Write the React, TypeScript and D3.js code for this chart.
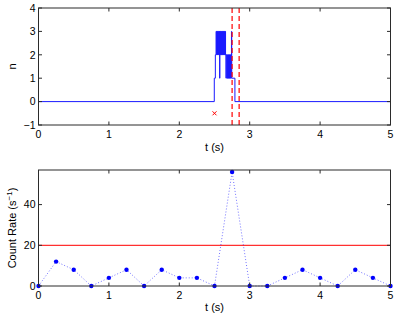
import React from "react";
import * as d3 from "d3";

// top panel: photon count n(t) as a step trace
const stepT = [
  0, 2.497, 2.512, 2.522, 2.53, 2.534, 2.541, 2.545, 2.552, 2.556, 2.566, 2.569,
  2.573, 2.576, 2.583, 2.587, 2.594, 2.598, 2.604, 2.608, 2.615, 2.619, 2.626,
  2.63, 2.637, 2.641, 2.648, 2.652, 2.657, 2.664, 2.666, 2.677, 2.681, 2.686,
  2.69, 2.695, 2.699, 2.704, 2.708, 2.713, 2.717, 2.722, 2.726, 2.733, 2.737,
  2.741, 2.745, 2.79, 5,
];
const stepN = [
  0, 1, 2, 3, 2, 3, 2, 3, 2, 3, 2, 3, 1, 3, 2, 3, 2, 3, 2, 3, 2, 3, 2, 3, 2, 3,
  2, 3, 2, 1, 2, 1, 2, 1, 2, 1, 2, 1, 2, 1, 2, 1, 2, 1, 2, 3, 1, 0, 0,
];
const markerT = [2.5];
const markerN = [-0.5];
const windowT = [2.75, 2.85];

// bottom panel: binned count rate
const rateT = [
  0, 0.25, 0.5, 0.75, 1, 1.25, 1.5, 1.75, 2, 2.25, 2.5, 2.75, 3, 3.25, 3.5,
  3.75, 4, 4.25, 4.5, 4.75, 5,
];
const rateV = [0, 12, 8, 0, 4, 8, 0, 8, 4, 4, 0, 56, 0, 0, 4, 8, 4, 0, 8, 4, 0];
const threshold = 20;

const xTicks = [0, 1, 2, 3, 4, 5];
const yTicksTop = [-1, 0, 1, 2, 3, 4];
const yTicksBot = [0, 20, 40];

const font = "'Liberation Sans', Arial, Helvetica, sans-serif";
const axisColor = "#2b2b2b";
const tickLen = 3.5;

function Frame({ x, y, xt, yt, yFmt }) {
  const [x0, x1] = x.range();
  const [y0, y1] = y.range(); // y0 bottom, y1 top
  return (
    <g fontFamily={font} fontSize={10.5} fill="#000">
      <rect
        x={x0}
        y={y1}
        width={x1 - x0}
        height={y0 - y1}
        fill="none"
        stroke={axisColor}
        strokeWidth={1}
      />
      {xt.map((t) => (
        <g key={"x" + t}>
          <line x1={x(t)} x2={x(t)} y1={y0} y2={y0 - tickLen} stroke={axisColor} />
          <line x1={x(t)} x2={x(t)} y1={y1} y2={y1 + tickLen} stroke={axisColor} />
          <text x={x(t)} y={y0 + 13} textAnchor="middle">
            {t}
          </text>
        </g>
      ))}
      {yt.map((v) => (
        <g key={"y" + v}>
          <line x1={x0} x2={x0 + tickLen} y1={y(v)} y2={y(v)} stroke={axisColor} />
          <line x1={x1} x2={x1 - tickLen} y1={y(v)} y2={y(v)} stroke={axisColor} />
          <text x={x0 - 3} y={y(v)} dy="0.36em" textAnchor="end">
            {yFmt(v)}
          </text>
        </g>
      ))}
    </g>
  );
}

export default function App() {
  const width = 399;
  const height = 317;

  const xTop = d3.scaleLinear().domain([0, 5]).range([38.5, 390.5]);
  const yTop = d3.scaleLinear().domain([-1, 4]).range([125, 8]);
  const xBot = d3.scaleLinear().domain([0, 5]).range([38.5, 390.5]);
  const yBot = d3.scaleLinear().domain([0, 57]).range([286, 170]);

  const stepPath = d3
    .line()
    .x((d) => xTop(d[0]))
    .y((d) => yTop(d[1]))
    .curve(d3.curveStepAfter)(stepT.map((t, i) => [t, stepN[i]]));

  const ratePath = d3
    .line()
    .x((d) => xBot(d[0]))
    .y((d) => yBot(d[1]))(rateT.map((t, i) => [t, rateV[i]]));

  const fmtMinus = (v) => (v < 0 ? "\u2212" + Math.abs(v) : String(v));
  const midTop = (xTop.range()[0] + xTop.range()[1]) / 2;

  return (
    <svg
      width={width}
      height={height}
      style={{ position: "absolute", left: 0, top: 0, background: "#fff" }}
    >
      <rect width={width} height={height} fill="#fff" />

      {/* top panel */}
      <path d={stepPath} fill="none" stroke="#1a1aff" strokeWidth={1} />
      {windowT.map((t) => (
        <line
          key={t}
          x1={xTop(t)}
          x2={xTop(t)}
          y1={yTop.range()[1]}
          y2={yTop.range()[0]}
          stroke="#ff0000"
          strokeWidth={1.2}
          strokeDasharray="5,3"
        />
      ))}
      {markerT.map((t, i) => (
        <g key={t} stroke="#ff0000" strokeWidth={1}>
          <line x1={xTop(t) - 2} x2={xTop(t) + 2} y1={yTop(markerN[i]) - 2} y2={yTop(markerN[i]) + 2} />
          <line x1={xTop(t) - 2} x2={xTop(t) + 2} y1={yTop(markerN[i]) + 2} y2={yTop(markerN[i]) - 2} />
        </g>
      ))}
      <Frame x={xTop} y={yTop} xt={xTicks} yt={yTicksTop} yFmt={fmtMinus} />
      <text x={midTop} y={151} textAnchor="middle" fontFamily={font} fontSize={11}>
        t (s)
      </text>
      <text
        transform={`translate(16,${(yTop.range()[0] + yTop.range()[1]) / 2}) rotate(-90)`}
        textAnchor="middle"
        fontFamily={font}
        fontSize={11}
      >
        n
      </text>

      {/* bottom panel */}
      <line
        x1={xBot.range()[0]}
        x2={xBot.range()[1]}
        y1={yBot(threshold)}
        y2={yBot(threshold)}
        stroke="#ff3030"
        strokeWidth={1.3}
      />
      <path
        d={ratePath}
        fill="none"
        stroke="#0000ff"
        strokeOpacity={0.55}
        strokeWidth={1}
        strokeDasharray="1,2"
      />
      {rateT.map((t, i) => (
        <circle key={t} cx={xBot(t)} cy={yBot(rateV[i])} r={2.2} fill="#0000ff" />
      ))}
      <Frame x={xBot} y={yBot} xt={xTicks} yt={yTicksBot} yFmt={(v) => String(v)} />
      <text x={midTop} y={311} textAnchor="middle" fontFamily={font} fontSize={11}>
        t (s)
      </text>
      <text
        transform={`translate(16,${(yBot.range()[0] + yBot.range()[1]) / 2}) rotate(-90)`}
        textAnchor="middle"
        fontFamily={font}
        fontSize={11}
      >
        Count Rate (s
        <tspan dy={-4} fontSize={8}>
          −1
        </tspan>
        <tspan dy={4}>)</tspan>
      </text>
    </svg>
  );
}
